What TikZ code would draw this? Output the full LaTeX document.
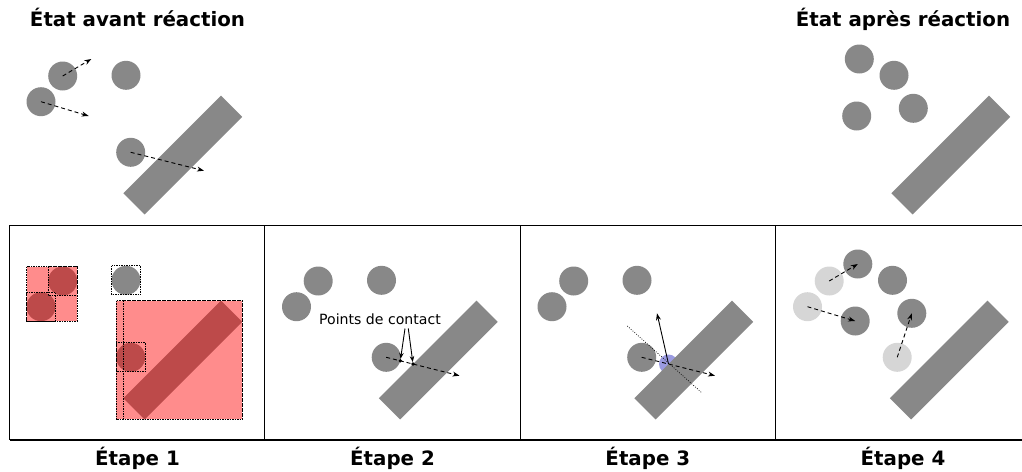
\documentclass[tikz,border=0pt]{standalone}
\usepackage{fontspec}
\setmainfont{DejaVu Sans}
\usetikzlibrary{arrows.meta,calc}
\definecolor{objgray}{RGB}{136,136,136}
\definecolor{ghostgray}{RGB}{214,214,214}
\definecolor{wedgeblue}{RGB}{155,155,225}
\tikzset{
  ball/.style={circle, fill=objgray, minimum size=29pt, inner sep=0pt, outer sep=0pt},
  ghostball/.style={ball, fill=ghostgray},
  wall/.style={rectangle, fill=objgray, minimum width=138pt, minimum height=30pt, inner sep=0pt, rotate=45},
  motion/.style={dash pattern=on 4pt off 3pt, line width=0.9pt, -{Stealth[length=7pt,width=5pt]}},
  bbox/.style={draw=black, line width=0.8pt, dash pattern=on 1.5pt off 1pt},
  hit/.style={bbox, fill=red, fill opacity=0.45},
  frameline/.style={draw=black, line width=1.2pt},
  heading/.style={font=\bfseries\fontsize{19.8}{23}\selectfont, anchor=base},
  note/.style={font=\fontsize{14.1}{17}\selectfont, anchor=base},
  pointer/.style={line width=0.9pt, -{Stealth[length=6pt,width=4.5pt]}},
  contactdot/.style={circle, fill=black, inner sep=0pt, minimum size=3.6pt},
  normalline/.style={line width=0.7pt, dash pattern=on 0.8pt off 1.6pt},
  reflect/.style={line width=0.9pt, -{Stealth[length=7pt,width=5pt]}},
  wedge/.style={fill=wedgeblue},
}
\begin{document}
\begin{tikzpicture}[x=1pt,y=-1pt]
\useasboundingbox (0,0) rectangle (1022,471);
\clip (0,0) rectangle (1022,471);

% ---------- top left: before ----------
\node[heading] (t1) at (137.5,26.7) {État avant réaction};
\begin{scope}
  \node[ball] (ta) at (62.7,76) {};
  \node[ball] (tb) at (126,75.3) {};
  \node[ball] (tc) at (41,101.7) {};
  \node[ball] (td) at (130.7,152.3) {};
  \node[wall] (tw) at (182.8,155) {};
  \coordinate (ta1) at (91.3,59);
  \coordinate (tc1) at (88.7,116);
  \coordinate (tde) at (204,170.7);
  \draw[motion] (ta.center) -- (ta1);
  \draw[motion] (tc.center) -- (tc1);
  \draw[motion] (td.center) -- (tde);
\end{scope}

% ---------- top right: after ----------
\node[heading] (t2) at (903,26.7) {État après réaction};
\begin{scope}[shift={(768,0)}]
  \node[ball] (ra) at (91.3,59) {};
  \node[ball] (rb) at (126,75.3) {};
  \node[ball] (rc) at (88.7,116) {};
  \node[ball] (rd) at (145.3,108.3) {};
  \node[wall] (rw) at (182.8,155) {};
\end{scope}

% ---------- panel 1 ----------
\begin{scope}[shift={(0,205)}]
  \node[ball] (pa) at (62.7,76) {};
  \node[ball] (pb) at (126,75.3) {};
  \node[ball] (pc) at (41,101.7) {};
  \node[ball] (pd) at (130.7,152.3) {};
  \node[wall] (pw) at (182.8,155) {};
  \path[hit] (26.5,61.5) rectangle (77.2,116.2);
  \path[hit] (116.2,95.6) rectangle (242.2,214.4);
  \draw[bbox] (48.2,61.5) rectangle (77.2,90.5);
  \draw[bbox] (26.5,87.2) rectangle (55.5,116.2);
  \draw[bbox] (111.5,60.8) rectangle (140.5,89.8);
  \draw[bbox] (116.2,137.8) rectangle (145.2,166.8);
  \draw[bbox] (123.4,95.6) rectangle (242.2,214.4);
\end{scope}

% ---------- panel 2 ----------
\begin{scope}[shift={(255.5,205)}]
  \node[ball] (qa) at (62.7,76) {};
  \node[ball] (qb) at (126,75.3) {};
  \node[ball] (qc) at (41,101.7) {};
  \node[ball] (qd) at (130.7,152.3) {};
  \node[wall] (qw) at (182.8,155) {};
  \coordinate (qde) at (204,170.7);
  \draw[motion] (qd.center) -- (qde);
  \node[contactdot] (q1) at (144.8,155.8) {};
  \node[contactdot] (q2) at (157.5,159) {};
  \node[note] (ql) at (124.5,119.7) {Points de contact};
  \coordinate (ql1) at (149.5,123.5);
  \coordinate (ql2) at (152.8,123.5);
  \draw[pointer] (ql1) -- (q1);
  \draw[pointer] (ql2) -- (q2);
\end{scope}

% ---------- panel 3 ----------
\begin{scope}[shift={(511,205)}]
  \node[ball] (sa) at (62.7,76) {};
  \node[ball] (sb) at (126,75.3) {};
  \node[ball] (sc) at (41,101.7) {};
  \node[ball] (sd) at (130.7,152.3) {};
  \coordinate (sp) at (157.5,159);
  \fill[wedge] (sp) circle[radius=9.5pt];
  \node[wall] (sw) at (182.8,155) {};
  \coordinate (sde) at (204,170.7);
  \coordinate (sn1) at (116.3,121);
  \coordinate (sn2) at (190.7,187.7);
  \coordinate (sd1) at (146,108.3);
  \draw[normalline] (sn1) -- (sn2);
  \draw[motion] (sd.center) -- (sde);
  \draw[reflect] (sp) -- (sd1);
\end{scope}

% ---------- panel 4 ----------
\begin{scope}[shift={(766.5,205)}]
  \node[ghostball] (ua0) at (62.7,76) {};
  \node[ghostball] (uc0) at (41,101.7) {};
  \node[ghostball] (ud0) at (130.7,152.3) {};
  \node[ball] (ua) at (91.3,59) {};
  \node[ball] (ub) at (126,75.3) {};
  \node[ball] (uc) at (88.7,116) {};
  \node[ball] (ud) at (145.3,108.3) {};
  \node[wall] (uw) at (182.8,155) {};
  \draw[motion] (ua0.center) -- (ua.center);
  \draw[motion] (uc0.center) -- (uc.center);
  \draw[motion] (ud0.center) -- (ud.center);
\end{scope}

% ---------- frames ----------
\draw[frameline] (9.5,225.3) -- (1031,225.3);
\draw[frameline] (9.5,440) -- (1031,440);
\foreach \xx in {9.5,264.8,520.1,775.4,1030.7}
  \draw[frameline] (\xx,225.3) -- (\xx,440);

% ---------- step labels ----------
\node[heading] (e1) at (137.5,465) {Étape 1};
\node[heading] (e2) at (392.5,465) {Étape 2};
\node[heading] (e3) at (647.8,465) {Étape 3};
\node[heading] (e4) at (903,465) {Étape 4};
\end{tikzpicture}
\end{document}
